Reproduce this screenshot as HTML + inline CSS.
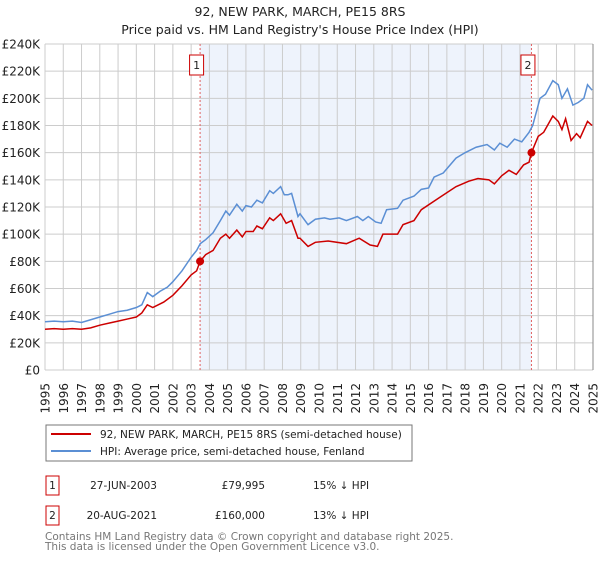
<!DOCTYPE html>
<html><head><meta charset="utf-8"><style>
body{margin:0;background:#fff;width:600px;height:560px;overflow:hidden;font-family:"Liberation Sans","DejaVu Sans",sans-serif}
svg text{font-family:"DejaVu Sans","Liberation Sans",sans-serif}
</style></head><body>
<svg id="chart" width="600" height="560" xmlns="http://www.w3.org/2000/svg">
<text x="300" y="16" text-anchor="middle" font-size="12.5" fill="#222">92, NEW PARK, MARCH, PE15 8RS</text>
<text x="300" y="34" text-anchor="middle" font-size="12.5" fill="#222">Price paid vs. HM Land Registry's House Price Index (HPI)</text>
<g id="plot"></g>
<g>
<rect x="46" y="425" width="366" height="36" fill="#fff" stroke="#777" stroke-width="1"/>
<line x1="51" y1="434" x2="91" y2="434" stroke="#cc0000" stroke-width="2"/>
<text x="100" y="438" font-size="10.5" fill="#222">92, NEW PARK, MARCH, PE15 8RS (semi-detached house)</text>
<line x1="51" y1="451" x2="91" y2="451" stroke="#5b8fd4" stroke-width="2"/>
<text x="100" y="455" font-size="10.5" fill="#222">HPI: Average price, semi-detached house, Fenland</text>
</g>
<g font-size="10.5" fill="#222">
<rect x="46" y="476" width="13" height="19" fill="#fff" stroke="#cc0000"/>
<text x="52.5" y="489" text-anchor="middle">1</text>
<text x="157" y="489" text-anchor="end">27-JUN-2003</text>
<text x="265" y="489" text-anchor="end">£79,995</text>
<text x="313" y="489">15% ↓ HPI</text>
</g>
<g font-size="10.5" fill="#222">
<rect x="46" y="506" width="13" height="19" fill="#fff" stroke="#cc0000"/>
<text x="52.5" y="519" text-anchor="middle">2</text>
<text x="157" y="519" text-anchor="end">20-AUG-2021</text>
<text x="265" y="519" text-anchor="end">£160,000</text>
<text x="313" y="519">13% ↓ HPI</text>
</g>
<text x="45" y="540" font-size="10.5" fill="#777">Contains HM Land Registry data © Crown copyright and database right 2025.</text>
<text x="45" y="550" font-size="10.5" fill="#777">This data is licensed under the Open Government Licence v3.0.</text>
</svg>
<script>
const yearTicks=[1995,1996,1997,1998,1999,2000,2001,2002,2003,2004,2005,2006,2007,2008,2009,2010,2011,2012,2013,2014,2015,2016,2017,2018,2019,2020,2021,2022,2023,2024,2025];
const valueTicks=[0,20,40,60,80,100,120,140,160,180,200,220,240];
const valueTickLabels=["£0","£20K","£40K","£60K","£80K","£100K","£120K","£140K","£160K","£180K","£200K","£220K","£240K"];
const hpiYears=[1995,1995.5,1996,1996.5,1997,1997.5,1998,1998.5,1999,1999.5,2000,2000.3,2000.6,2000.9,2001.3,2001.7,2002,2002.5,2003,2003.3,2003.5,2003.8,2004.2,2004.6,2004.9,2005.1,2005.5,2005.8,2006.0,2006.3,2006.6,2006.9,2007.3,2007.5,2007.9,2008.1,2008.3,2008.5,2008.85,2008.96,2009.4,2009.8,2010.3,2010.6,2011.1,2011.5,2012.1,2012.4,2012.7,2013.1,2013.4,2013.7,2014.3,2014.6,2015.2,2015.6,2016.0,2016.3,2016.8,2017.5,2018.0,2018.6,2019.2,2019.6,2019.9,2020.3,2020.7,2021.1,2021.5,2021.7,2022.1,2022.4,2022.8,2023.1,2023.3,2023.6,2023.9,2024.2,2024.5,2024.7,2024.95];
const hpiValues=[35.5,36,35.5,36,35,37,39,41,43,44,46,48,57,54,58,61,65,73,83,88,93,96,101,110,117,114,122,117,121,120,125,123,132,130,135,129,129,130,113,115,107,111,112,111,112,110,113,110,113,109,108,118,119,125,128,133,134,142,145,156,160,164,166,162,167,164,170,168,175,180,200,203,213,210,200,207,195,197,200,210,206];
const priceYears=[1995,1995.5,1996,1996.5,1997,1997.5,1998,1998.5,1999,1999.5,2000,2000.3,2000.6,2000.9,2001.5,2002,2002.5,2003,2003.3,2003.49,2003.8,2004.2,2004.6,2004.9,2005.1,2005.5,2005.8,2006.0,2006.4,2006.6,2006.9,2007.3,2007.5,2007.9,2008.2,2008.5,2008.85,2008.96,2009.4,2009.8,2010.5,2011.5,2012.2,2012.8,2013.2,2013.5,2014.3,2014.6,2015.2,2015.6,2016.6,2017.5,2018.2,2018.7,2019.3,2019.6,2020.0,2020.4,2020.8,2021.2,2021.5,2021.63,2022.0,2022.3,2022.8,2023.1,2023.3,2023.5,2023.8,2024.1,2024.3,2024.7,2024.95];
const priceValues=[30,30.5,30,30.5,30,31,33,34.5,36,37.5,39,42,48,46,50,55,62,70,73,80,85,88,97,100,97,103,98,102,102,106,104,112,110,115,108,110,97,97,91,94,95,93,97,92,91,100,100,107,110,118,127,135,139,141,140,137,143,147,144,151,153,160,172,175,187,183,177,185,169,174,171,183,180];
const saleYears=[2003.49,2021.63];
const saleValues=[79.995,160];
const saleLabels=["1","2"];

const NS="http://www.w3.org/2000/svg";
const X0=45,X1=593,Y0=44,Y1=370;
const xs=y=>X0+(y-1995)/(2025-1995)*(X1-X0);
const ys=v=>Y1-v/240*(Y1-Y0);
const plot=document.getElementById('plot');
function mk(tag,attrs,parent){const e=document.createElementNS(NS,tag);for(const k in attrs)e.setAttribute(k,attrs[k]);(parent||plot).appendChild(e);return e;}

const shade=mk('rect',{x:xs(saleYears[0]),y:Y0,width:xs(saleYears[1])-xs(saleYears[0]),height:Y1-Y0,fill:'#eef3fc'});



yearTicks.forEach(yr=>{
  const g=mk('line',{x1:xs(yr),x2:xs(yr),y1:Y0,y2:Y1,stroke:'#cccccc','stroke-width':1});
  
  
  const t=mk('text',{x:0,y:0,'font-size':12,fill:'#222','text-anchor':'end',transform:`translate(${xs(yr)+4.5},383) rotate(-90)`});
  t.textContent=yr;
  
  
});
valueTicks.forEach((v,i)=>{
  const g=mk('line',{x1:X0,x2:X1,y1:ys(v),y2:ys(v),stroke:'#cccccc','stroke-width':1});
  
  
  const t=mk('text',{x:40,y:ys(v)+4.5,'font-size':12,fill:'#222','text-anchor':'end'});
  t.textContent=valueTickLabels[i];
  
  
});
const edge=mk('line',{x1:X1,x2:X1,y1:Y0,y2:Y1,stroke:'#888','stroke-width':1});



saleYears.forEach((yr,i)=>{
  const l=mk('line',{x1:xs(yr),x2:xs(yr),y1:Y0,y2:Y1,stroke:'#e06060','stroke-width':1,'stroke-dasharray':'2,2'});
  
  
});

const hp=mk('polyline',{points:hpiYears.map((y,i)=>xs(y)+','+ys(hpiValues[i])).join(' '),fill:'none',stroke:'#5b8fd4','stroke-width':1.5});


const pp=mk('polyline',{points:priceYears.map((y,i)=>xs(y)+','+ys(priceValues[i])).join(' '),fill:'none',stroke:'#cc0000','stroke-width':1.5});



saleYears.forEach((yr,i)=>{
  const c=mk('circle',{cx:xs(yr),cy:ys(saleValues[i]),r:4,fill:'#cc0000'});
  
  
  const b=mk('rect',{x:xs(yr)-10.5,y:55,width:14,height:20,fill:'#fff',stroke:'#cc0000'});
  
  
  const t=mk('text',{x:xs(yr)-3.5,y:69,'font-size':11,fill:'#222','text-anchor':'middle'});
  t.textContent=saleLabels[i];
  
  
});
</script>
</body></html>
